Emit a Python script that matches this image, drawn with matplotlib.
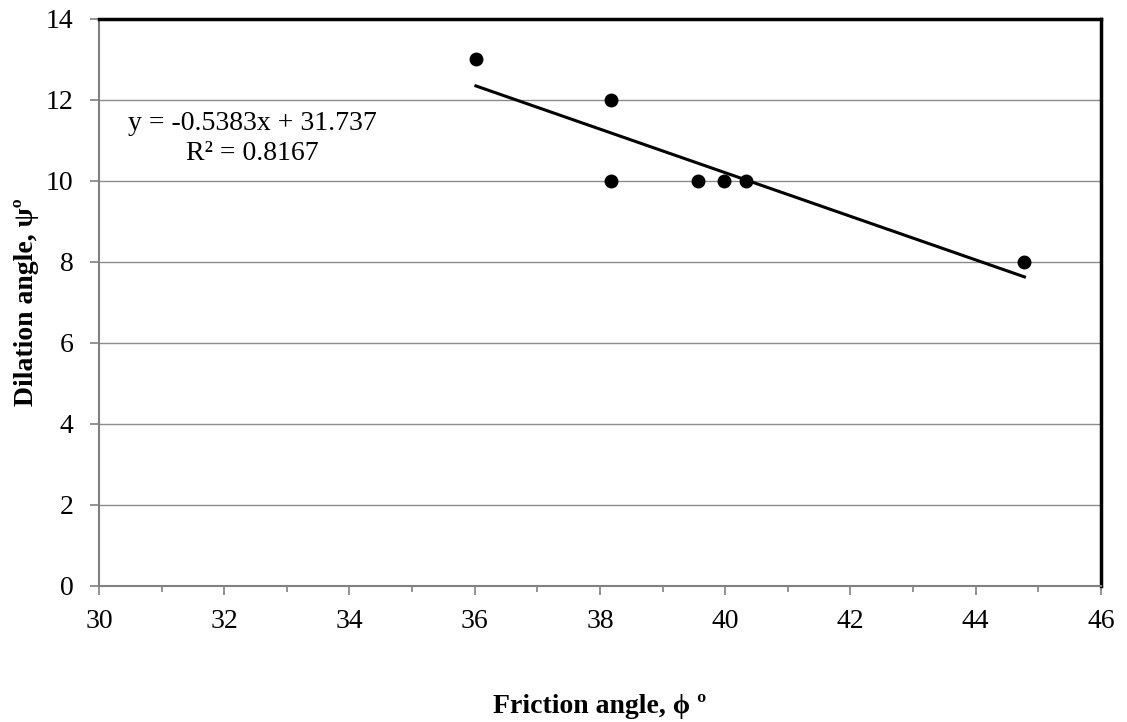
import numpy as np
import matplotlib.pyplot as plt
from matplotlib.ticker import MultipleLocator

plt.rcParams['font.family'] = ['Liberation Serif', 'DejaVu Serif']

# friction angle (deg) vs dilation angle (deg)
phi = [36.02, 38.17, 38.17, 39.57, 39.98, 40.33, 44.78]
psi = [13, 12, 10, 10, 10, 10, 8]

slope = -0.5383
intercept = 31.737
r2 = 0.8167

fig = plt.figure(figsize=(11.27, 7.22), dpi=100)
ax = fig.add_axes([0.0878, 0.1884, 0.889, 0.7853])

ax.set_xlim(30, 46)
ax.set_ylim(0, 14)
ax.xaxis.set_major_locator(MultipleLocator(2))
ax.xaxis.set_minor_locator(MultipleLocator(1))
ax.yaxis.set_major_locator(MultipleLocator(2))

ax.grid(axis='y', color='#8c8c8c', linewidth=1)
ax.set_axisbelow(True)

xs = np.array([min(phi), max(phi)])
ax.plot(xs, slope * xs + intercept, color='black', linewidth=2.2, zorder=3)
ax.plot(phi, psi, 'o', color='black', markersize=9, zorder=4)

# trendline label, placed in figure fractions
fig.text(0.2236, 0.808, 'y = %.4fx + %.3f\nR\u00b2 = %.4f' % (slope, intercept, r2),
         ha='center', va='center', fontsize=20, linespacing=1.3)

for s in ['left', 'bottom']:
    ax.spines[s].set_color('#808080')
    ax.spines[s].set_linewidth(1.5)
for s in ['top', 'right']:
    ax.spines[s].set_color('black')
    ax.spines[s].set_linewidth(2.5)

ax.tick_params(axis='both', which='major', direction='out', color='#808080',
               width=1.2, labelsize=20, length=6.5)
ax.tick_params(axis='x', which='minor', direction='out', color='#808080',
               width=1.2, length=4.5)
ax.tick_params(axis='x', pad=10)
ax.tick_params(axis='y', pad=12)

ax.set_ylabel('Dilation angle, \u03c8\u00ba', fontsize=20, fontweight='bold', labelpad=5)
ax.set_xlabel('Friction angle, \u03d5 \u00ba', fontsize=20, fontweight='bold', labelpad=43)

fig.savefig('out.png', dpi=100)
